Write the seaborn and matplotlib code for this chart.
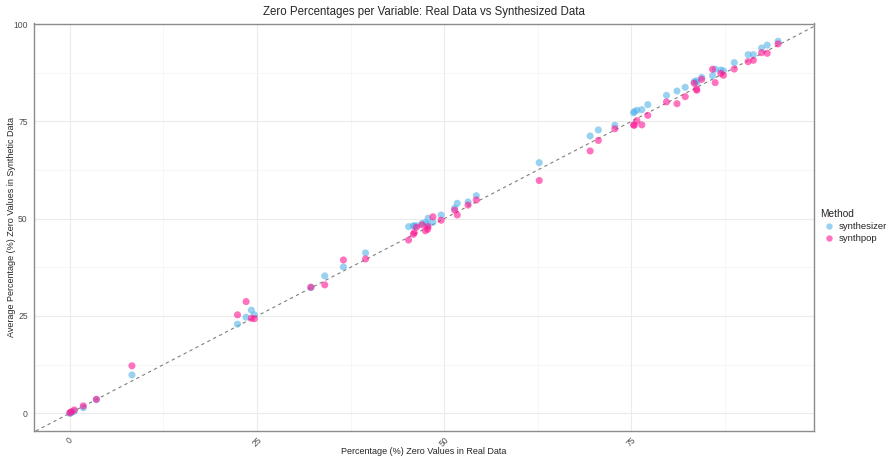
import numpy as np
import pandas as pd
import matplotlib
matplotlib.use("Agg")
import matplotlib.pyplot as plt
import seaborn as sns

# Real-data zero percentages per variable
real_pct = [0.0, 0.2, 0.6, 1.8, 3.55, 8.3, 22.4, 23.55, 24.25, 24.65,
            32.2, 34.05, 36.55, 39.5, 45.25, 45.9, 46.0, 46.3, 47.05, 47.5,
            47.8, 47.85, 48.5, 49.6, 51.4, 51.75, 53.2, 54.3, 62.7, 69.5,
            70.6, 72.8, 75.3, 75.4, 75.75, 76.4, 77.2, 79.7, 81.1, 82.2,
            83.4, 83.7, 83.75, 84.4, 85.85, 86.2, 86.95, 87.3, 88.75, 90.6,
            91.3, 92.4, 93.15, 94.6]
synthesizer_pct = [0.0, 0.1, 0.5, 1.45, 3.5, 9.85, 22.9, 24.7, 26.5, 25.3,
                   32.3, 35.3, 37.6, 41.2, 47.95, 48.2, 48.0, 48.2, 48.8, 49.0,
                   48.5, 50.1, 49.1, 50.95, 52.7, 53.95, 54.3, 55.9, 64.4, 71.25,
                   72.8, 74.0, 77.2, 77.5, 77.85, 78.0, 79.3, 81.7, 82.8, 83.75,
                   85.2, 85.45, 85.0, 86.3, 86.75, 88.4, 88.2, 88.0, 90.1, 92.15,
                   92.15, 93.85, 94.6, 95.6]
synthpop_pct = [0.15, 0.4, 0.85, 1.9, 3.6, 12.2, 25.3, 28.7, 24.4, 24.3,
                32.4, 33.0, 39.4, 39.65, 44.5, 46.0, 46.4, 47.8, 48.4, 46.9,
                47.3, 47.95, 50.5, 49.6, 52.2, 50.95, 53.5, 54.8, 59.8, 67.4,
                70.1, 73.1, 74.1, 74.0, 75.2, 74.1, 76.55, 80.0, 79.55, 81.35,
                84.8, 83.3, 83.0, 85.8, 88.4, 84.95, 87.35, 86.85, 88.45, 90.35,
                90.7, 92.65, 92.5, 94.9]
methods = ["synthesizer", "synthpop"]
ticks = [0, 25, 50, 75]
yticks = [0, 25, 50, 75, 100]

df = pd.DataFrame({
    "real": real_pct * 2,
    "synth": synthesizer_pct + synthpop_pct,
    "Method": [methods[0]] * len(real_pct) + [methods[1]] * len(real_pct),
})

sns.set_theme(style="white")
plt.rcParams["font.family"] = ["Liberation Sans", "DejaVu Sans"]

fig = plt.figure(figsize=(8.89, 4.59), dpi=100)
ax = fig.add_axes([34 / 889, 28 / 459, 780 / 889, 407.5 / 459])

ax.set_xlim(-4.78, 99.4)
ax.set_ylim(-4.55, 100.15)
ax.set_xticks(ticks)
ax.set_yticks(yticks)
ax.set_xticks([12.5, 37.5, 62.5, 87.5], minor=True)
ax.set_yticks([12.5, 37.5, 62.5, 87.5], minor=True)
ax.grid(True, which="major", color="#EBEBEB", linewidth=0.8)
ax.grid(True, which="minor", color="#F3F3F3", linewidth=0.5)
ax.set_axisbelow(True)

palette = {"synthesizer": "#56B4E9", "synthpop": "#FF1493"}
sns.scatterplot(data=df, x="real", y="synth", hue="Method", hue_order=methods,
                palette=palette, alpha=0.6, s=26, linewidth=0, ax=ax, zorder=3)

ax.axline((0, 0), slope=1, color="#7F7F7F", linestyle=(0, (3, 3)),
          linewidth=0.8, zorder=2)

for sp in ax.spines.values():
    sp.set_color("#8C8C8C")
    sp.set_linewidth(1.0)

ax.tick_params(axis="both", which="major", length=3, width=0.6, color="#8C8C8C",
               labelsize=6.2, labelcolor="#4D4D4D", pad=1.5)
ax.tick_params(axis="x", which="major", pad=0.3)
ax.tick_params(axis="both", which="minor", length=0)
for lab in ax.get_xticklabels():
    lab.set_rotation(45)
    lab.set_ha("center")
    lab.set_va("top")

ax.set_xlabel("Percentage (%) Zero Values in Real Data", fontsize=6.5)
ax.xaxis.set_label_coords(0.5, -(452 - 431) / 407.5)
ax.xaxis.label.set_va("center")
ax.set_ylabel("Average Percentage (%) Zero Values in Synthetic Data", fontsize=6.5)
ax.yaxis.set_label_coords(-(34 - 12) / 780, 0.5)
ax.yaxis.label.set_va("center")
ax.set_title("Zero Percentages per Variable: Real Data vs Synthesized Data",
             fontsize=8.3, pad=6)

leg = ax.legend(title="Method", loc="upper left", bbox_to_anchor=(818 / 889, 1 - 207 / 459),
                bbox_transform=fig.transFigure, frameon=False, fontsize=6.8,
                title_fontsize=7.3, handletextpad=0.0, borderaxespad=0,
                labelspacing=0.35, markerscale=0.9, borderpad=0.2)
leg._legend_box.align = "left"

fig.savefig("out.png", dpi=100)
